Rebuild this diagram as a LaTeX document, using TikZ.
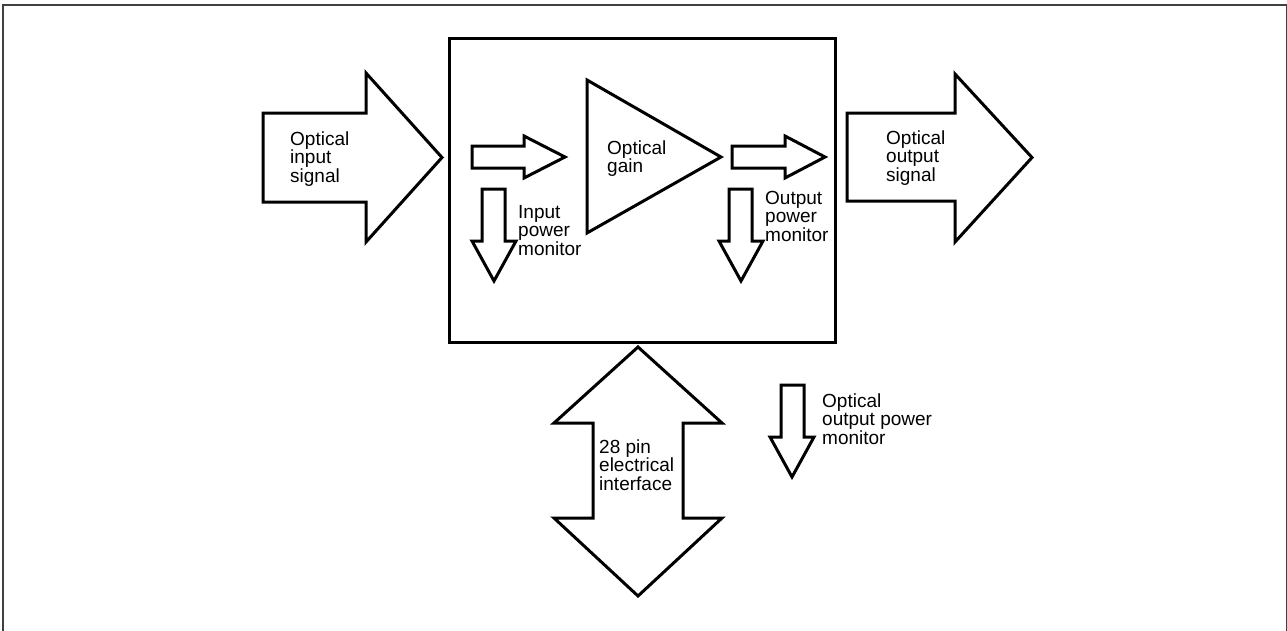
\documentclass[tikz,border=0pt]{standalone}
\usepackage{fontspec}
\setmainfont{Liberation Sans}
\newcommand{\mlines}[1]{\vtop{\baselineskip=18.5pt\lineskiplimit=-20pt #1}}
\begin{document}
\begin{tikzpicture}[x=1pt,y=-1pt,
  fat/.style={draw=black,line width=3pt,line join=miter,fill=white},
  frame/.style={draw=black!75,line width=2pt},
  lbl/.style={anchor=base west,inner sep=0pt,font=\fontsize{19pt}{18.5pt}\selectfont}]
\useasboundingbox (0,0) rectangle (1287,630);
% outer frame
\draw[frame] (3,631) -- (3,4.5) -- (1286.5,4.5) -- (1286.5,631);
% main module box
\node[draw=black,line width=3pt,minimum width=386pt,minimum height=304pt,inner sep=0pt,anchor=north west] (box) at (448,37) {};
% input signal arrow
\draw[fat] (263,113) -- (366,113) -- (366,73) -- (442,157.5) -- (366,242) -- (366,202) -- (263,202) -- cycle;
% output signal arrow
\draw[fat] (847,113) -- (955,113) -- (955,74) -- (1032,157.5) -- (955,242) -- (955,201) -- (847,201) -- cycle;
% small arrows inside
\draw[fat] (472,146) -- (524,146) -- (524,136) -- (565,157) -- (524,178) -- (524,168) -- (472,168) -- cycle;
\draw[fat] (732,146) -- (785,146) -- (785,136) -- (825,157) -- (785,178) -- (785,168) -- (732,168) -- cycle;
% monitor down arrows
\draw[fat] (482,189) -- (505,189) -- (505,241) -- (516,241) -- (494,281) -- (472,241) -- (482,241) -- cycle;
\draw[fat] (729,189) -- (752,189) -- (752,241) -- (763,241) -- (741,281) -- (719,241) -- (729,241) -- cycle;
\draw[fat] (781,385) -- (804,385) -- (804,437) -- (814,437) -- (792,477) -- (770,437) -- (781,437) -- cycle;
% gain triangle
\draw[fat] (587,80) -- (721,157) -- (587,233) -- cycle;
% electrical interface double arrow
\draw[fat] (638,347) -- (722,423) -- (683,423) -- (683,518) -- (722,518) -- (638,596) -- (554,518) -- (593,518) -- (593,423) -- (554,423) -- cycle;
% labels
\node[lbl] (tin) at (290,145) {\mlines{\hbox{Optical}\hbox{input}\hbox{signal}}};
\node[lbl] (tout) at (886,144) {\mlines{\hbox{Optical}\hbox{output}\hbox{signal}}};
\node[lbl] (tgain) at (607,154) {\mlines{\hbox{Optical}\hbox{gain}}};
\node[lbl] (tipm) at (518,218) {\mlines{\hbox{Input}\hbox{power}\hbox{monitor}}};
\node[lbl] (topm) at (765,204) {\mlines{\hbox{Output}\hbox{power}\hbox{monitor}}};
\node[lbl] (tpin) at (599,453) {\mlines{\hbox{28 pin}\hbox{electrical}\hbox{interface}}};
\node[lbl] (toopm) at (822,407) {\mlines{\hbox{Optical}\hbox{output power}\hbox{monitor}}};
\end{tikzpicture}
\end{document}
